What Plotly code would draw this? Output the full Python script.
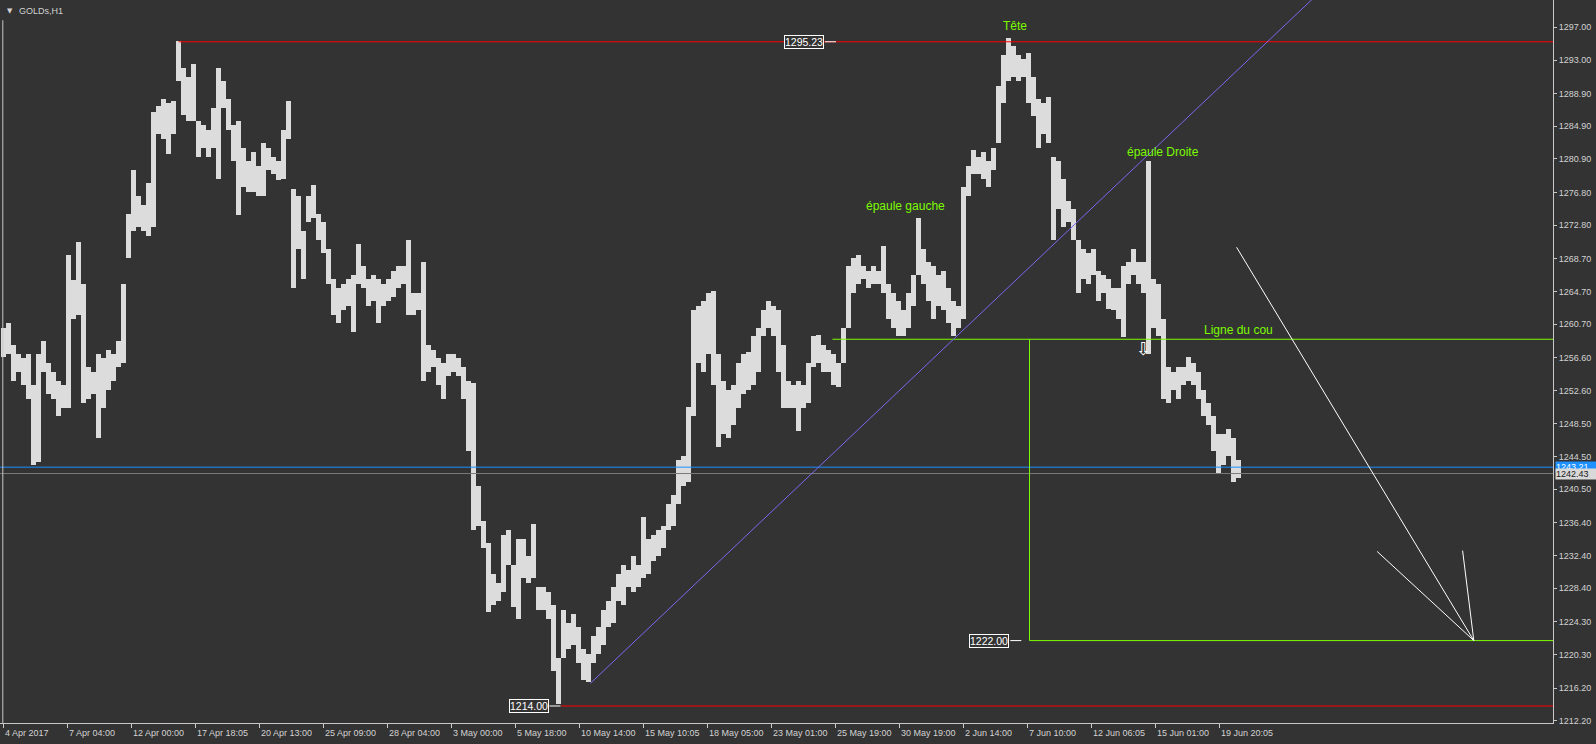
import plotly.graph_objects as go

# ---------------- data ----------------
symbol_label = "GOLDs,H1"

date_labels = ["4 Apr 2017", "7 Apr 04:00", "12 Apr 00:00", "17 Apr 18:05", "20 Apr 13:00",
               "25 Apr 09:00", "28 Apr 04:00", "3 May 00:00", "5 May 18:00", "10 May 14:00",
               "15 May 10:05", "18 May 05:00", "23 May 01:00", "25 May 19:00", "30 May 19:00",
               "2 Jun 14:00", "7 Jun 10:00", "12 Jun 06:05", "15 Jun 01:00", "19 Jun 20:05"]

price_ticks = [1297.00, 1293.00, 1288.90, 1284.90, 1280.90, 1276.80, 1272.80, 1268.70, 1264.70,
               1260.70, 1256.60, 1252.60, 1248.50, 1244.50, 1240.50, 1236.40, 1232.40, 1228.40,
               1224.30, 1220.30, 1216.20, 1212.20]

# H1 price range, one value per group of 5 hourly bars
bar_high = [1260.2, 1260.9, 1258.1, 1257.0, 1256.5, 1257.0, 1253.2, 1257.0, 1258.6, 1255.9,
            1254.85, 1253.8, 1253.2, 1269.1, 1266.1, 1270.7, 1265.6, 1255.4, 1254.85, 1257.0,
            1256.5, 1257.55, 1257.0, 1258.6, 1265.6, 1274.2, 1279.6, 1276.4, 1275.3, 1278.0,
            1286.6, 1287.4, 1288.2, 1287.7, 1287.95, 1295.3, 1292.0, 1290.9, 1292.5, 1285.5,
            1285.0, 1284.45, 1287.1, 1292.0, 1290.4, 1288.2, 1285.0, 1285.5, 1282.3, 1280.7,
            1281.75, 1280.1, 1282.8, 1282.3, 1281.2, 1280.7, 1284.45, 1287.95, 1277.2, 1276.4,
            1272.1, 1276.4, 1277.7, 1274.2, 1273.2, 1269.9, 1266.2, 1265.1, 1265.6, 1266.2,
            1266.7, 1270.5, 1267.8, 1266.2, 1266.7, 1266.2, 1265.6, 1266.2, 1267.2, 1267.8,
            1267.8, 1271.0, 1264.5, 1264.5, 1268.3, 1258.1, 1257.55, 1256.5, 1255.9, 1257.0,
            1257.0, 1256.5, 1255.4, 1253.8, 1253.5, 1240.9, 1236.6, 1233.9, 1230.1, 1229.0,
            1234.9, 1235.5, 1231.2, 1234.4, 1234.4, 1232.3, 1236.3, 1228.5, 1228.5, 1227.95,
            1226.3, 1219.9, 1225.8, 1224.2, 1225.25, 1223.6, 1221.0, 1220.4, 1222.6, 1223.6,
            1225.8, 1226.9, 1228.5, 1230.1, 1231.2, 1230.65, 1232.3, 1231.2, 1237.1, 1234.4,
            1234.9, 1235.5, 1236.0, 1238.7, 1239.8, 1244.1, 1244.6, 1250.55, 1262.4, 1262.9,
            1263.5, 1264.5, 1264.8, 1257.0, 1253.8, 1252.7, 1253.2, 1255.9, 1257.0, 1257.3,
            1259.2, 1260.2, 1262.4, 1263.5, 1262.9, 1262.4, 1258.1, 1253.8, 1253.2, 1253.8,
            1253.2, 1255.9, 1259.2, 1259.4, 1258.1, 1257.55, 1257.0, 1255.9, 1260.2, 1267.8,
            1268.8, 1269.1, 1267.8, 1267.2, 1267.8, 1267.2, 1270.2, 1265.6, 1264.5, 1263.5,
            1262.4, 1264.5, 1266.7, 1273.7, 1269.9, 1268.3, 1267.8, 1266.7, 1267.2, 1265.1,
            1263.5, 1262.9, 1277.5, 1280.1, 1282.0, 1281.2, 1281.75, 1280.7, 1282.3, 1289.8,
            1293.6, 1295.75, 1294.7, 1293.6, 1293.1, 1293.9, 1290.9, 1288.2, 1287.7, 1288.5,
            1281.2, 1280.7, 1278.5, 1275.8, 1274.8, 1271.0, 1269.9, 1269.4, 1269.9, 1267.2,
            1266.7, 1266.2, 1265.1, 1265.1, 1267.8, 1268.3, 1269.9, 1268.3, 1268.3, 1280.7,
            1266.2, 1265.6, 1261.3, 1255.4, 1254.85, 1255.4, 1255.4, 1256.7, 1255.9, 1254.85,
            1252.7, 1251.1, 1249.5, 1247.3, 1247.3, 1247.9, 1246.8, 1244.1]

bar_low = [1256.7, 1257.0, 1253.8, 1254.9, 1253.2, 1251.6, 1243.5, 1243.8, 1254.85, 1252.2,
           1251.6, 1249.5, 1250.5, 1250.5, 1261.3, 1261.85, 1251.1, 1251.6, 1252.2, 1246.8,
           1250.5, 1252.7, 1253.8, 1255.4, 1255.9, 1268.8, 1272.1, 1272.6, 1272.1, 1271.5,
           1272.6, 1283.9, 1283.4, 1281.5, 1283.9, 1290.4, 1286.3, 1285.5, 1285.5, 1281.2,
           1282.3, 1281.2, 1282.3, 1278.5, 1287.1, 1284.45, 1280.7, 1274.0, 1277.5, 1276.9,
           1276.9, 1276.4, 1276.4, 1279.6, 1279.1, 1278.3, 1278.5, 1283.4, 1265.1, 1269.9,
           1266.2, 1273.2, 1273.7, 1271.0, 1269.4, 1265.6, 1261.85, 1260.8, 1262.4, 1262.9,
           1259.7, 1265.6, 1265.1, 1262.9, 1263.5, 1260.8, 1262.9, 1263.5, 1264.0, 1265.1,
           1265.6, 1261.85, 1261.85, 1262.4, 1253.8, 1254.85, 1255.4, 1253.2, 1251.6, 1254.3,
           1254.85, 1254.3, 1251.6, 1245.2, 1235.5, 1236.0, 1233.3, 1225.5, 1226.3, 1226.9,
           1227.95, 1231.2, 1226.1, 1224.7, 1229.6, 1229.0, 1229.6, 1225.8, 1225.8, 1224.7,
           1218.3, 1214.2, 1219.9, 1221.0, 1221.5, 1219.3, 1217.2, 1216.9, 1219.3, 1220.4,
           1221.5, 1223.6, 1224.2, 1226.9, 1226.3, 1228.5, 1227.95, 1228.5, 1229.6, 1230.1,
           1231.7, 1232.3, 1233.3, 1235.5, 1236.0, 1238.7, 1240.9, 1241.4, 1249.5, 1255.9,
           1254.85, 1257.0, 1253.2, 1245.7, 1247.3, 1246.8, 1248.4, 1250.5, 1252.2, 1252.7,
           1253.2, 1254.85, 1259.2, 1260.2, 1259.2, 1254.85, 1250.5, 1250.5, 1250.5, 1247.6,
           1250.5, 1251.1, 1255.4, 1255.9, 1254.85, 1254.85, 1253.2, 1253.0, 1255.9, 1260.2,
           1264.5, 1265.6, 1266.2, 1265.1, 1265.6, 1265.6, 1264.5, 1261.3, 1260.2, 1259.2,
           1259.2, 1260.2, 1262.9, 1266.7, 1265.6, 1263.5, 1261.3, 1262.9, 1262.4, 1260.8,
           1259.2, 1260.2, 1261.3, 1276.4, 1279.1, 1279.1, 1278.5, 1277.5, 1279.6, 1282.8,
           1287.7, 1290.4, 1290.9, 1290.4, 1290.9, 1287.7, 1286.1, 1282.3, 1283.9, 1282.8,
           1271.0, 1274.8, 1272.6, 1273.2, 1271.0, 1264.5, 1266.2, 1265.6, 1266.7, 1263.5,
           1264.5, 1262.6, 1262.4, 1261.3, 1259.1, 1265.6, 1266.7, 1265.6, 1264.5, 1257.0,
           1260.2, 1259.2, 1251.6, 1251.1, 1252.7, 1251.6, 1253.2, 1253.8, 1253.2, 1251.6,
           1249.5, 1248.4, 1245.2, 1242.5, 1243.5, 1244.6, 1241.4, 1241.9]

# chart objects (bar position, price)
high_level = 1295.23          # red horizontal, starts at April high
high_level_start = 178.6
low_level = 1214.00           # red horizontal, starts at May low
low_level_start = 561.0
neckline = 1258.85            # "Ligne du cou"
neckline_start = 832.4
target_level = 1222.00        # projected target
target_bar = 1029.5
trend_p1 = (590.4, 1216.77)   # blue ray
trend_p2 = (955.2, 1259.05)
arrow_lines = [((1236.6, 1270.1), (1473.8, 1222.0)),
               ((1377.1, 1232.9), (1473.8, 1222.0)),
               ((1462.6, 1233.0), (1473.8, 1222.0))]
ask_price = 1243.21
bid_price = 1242.43
price_boxes = [("1295.23", 804.0, 1295.23), ("1214.00", 528.5, 1214.00), ("1222.00", 989.3, 1222.00)]
text_labels = [("Tête", 1015.0, 1297.1), ("épaule gauche", 905.8, 1275.2),
               ("épaule Droite", 1162.8, 1281.75), ("Ligne du cou", 1238.0, 1259.98)]
sell_arrow = (1143.5, 1257.66)

# ---------------- layout constants ----------------
W, H = 1596, 744
ML, MR, MT, MB = 0, 43, 0, 21
X_MAX = W - MR            # 1 unit = 1 hourly bar = 1 pixel
Y_RANGE = [1211.92, 1300.34]
first_bar, bar_step = 3.0, 5.0
first_tick, tick_step = 3.5, 64.0

BG = "#333333"
FG = "#d2d2d2"
BAR = "#dcdcdc"
GREEN = "#7cfc00"
RED = "#ff0000"
FONT = "Liberation Sans"

bar_x = [first_bar + i * bar_step for i in range(len(bar_high))]
tick_x = [first_tick + i * tick_step for i in range(len(date_labels))]

fig = go.Figure()

fig.add_trace(go.Bar(
    x=bar_x, y=[h - l for h, l in zip(bar_high, bar_low)], base=bar_low,
    width=bar_step, marker=dict(color=BAR, line=dict(width=0)),
    showlegend=False, hoverinfo="skip"))


def seg(x0, y0, x1, y1, color, width=1, dash=None):
    fig.add_trace(go.Scatter(x=[x0, x1], y=[y0, y1], mode="lines",
                             line=dict(color=color, width=width, dash=dash),
                             showlegend=False, hoverinfo="skip"))


# ask / bid lines
seg(0, ask_price, X_MAX, ask_price, "#1e90ff")
seg(0, bid_price, X_MAX, bid_price, "#7a7a7a")
# levels
seg(high_level_start, high_level, X_MAX, high_level, RED)
seg(low_level_start, low_level, X_MAX, low_level, RED)
seg(neckline_start, neckline, X_MAX, neckline, GREEN)
seg(target_bar, target_level, X_MAX, target_level, GREEN)
seg(target_bar, neckline, target_bar, target_level, GREEN)
# trend ray
slope = (trend_p2[1] - trend_p1[1]) / (trend_p2[0] - trend_p1[0])
ray_end_x = X_MAX + 200
seg(trend_p1[0], trend_p1[1], ray_end_x, trend_p1[1] + slope * (ray_end_x - trend_p1[0]), "#7b68ee")
# white projection lines
for (a, b) in arrow_lines:
    seg(a[0], a[1], b[0], b[1], "#ffffff")

annotations = []
# price label objects
for txt, bx, by in price_boxes:
    annotations.append(dict(x=bx, y=by, xref="x", yref="y", text=txt, showarrow=False,
                            font=dict(family=FONT, size=10.5, color="#ffffff"),
                            bgcolor=BG, bordercolor="#ffffff", borderwidth=1, borderpad=0,
                            xanchor="center", yanchor="middle"))
    seg(bx + 21, by, bx + 32, by, "#ffffff")

for txt, tx, ty in text_labels:
    annotations.append(dict(x=tx, y=ty, xref="x", yref="y", text=txt, showarrow=False,
                            font=dict(family=FONT, size=12, color=GREEN),
                            xanchor="center", yanchor="middle"))

annotations.append(dict(x=sell_arrow[0], y=sell_arrow[1], xref="x", yref="y", text="⇩",
                        showarrow=False, font=dict(family="DejaVu Sans", size=18, color="#ffffff"),
                        xanchor="center", yanchor="middle"))

# time-axis labels (left aligned after tick like MT4)
for tx, lab in zip(tick_x, date_labels):
    annotations.append(dict(x=tx, y=0, xref="x", yref="paper", text=lab, showarrow=False,
                            font=dict(family=FONT, size=9, color=FG),
                            xanchor="left", yanchor="middle", xshift=-1, yshift=-10))

# current ask / bid boxes on the price scale
annotations.append(dict(x=1, y=ask_price, xref="paper", yref="y", text=f"{ask_price:.2f}",
                        showarrow=False, font=dict(family=FONT, size=9, color="#ffffff"),
                        bgcolor="#1e90ff", width=41, height=10, borderpad=0,
                        xanchor="left", yanchor="middle", xshift=2, align="left"))
annotations.append(dict(x=1, y=bid_price, xref="paper", yref="y", text=f"{bid_price:.2f}",
                        showarrow=False, font=dict(family=FONT, size=9, color="#202020"),
                        bgcolor="#d8d8d8", width=41, height=10, borderpad=0,
                        xanchor="left", yanchor="middle", xshift=2, align="left"))

# symbol caption
annotations.append(dict(x=0, y=1, xref="paper", yref="paper", text="▼", showarrow=False,
                        font=dict(family="DejaVu Sans", size=7, color=FG),
                        xanchor="center", yanchor="middle", xshift=9.5, yshift=-10.5))
annotations.append(dict(x=0, y=1, xref="paper", yref="paper", text=symbol_label, showarrow=False,
                        font=dict(family=FONT, size=9, color=FG), bgcolor=BG,
                        xanchor="left", yanchor="middle", xshift=17, yshift=-10.5))

fig.update_layout(
    width=W, height=H, margin=dict(l=ML, r=MR, t=MT, b=MB, pad=0),
    paper_bgcolor=BG, plot_bgcolor=BG, showlegend=False, bargap=0,
    annotations=annotations,
    shapes=[dict(type="line", xref="x", yref="paper", x0=2.8, x1=2.8, y0=0, y1=0.972,
                 line=dict(color="#c8c8c8", width=1))],
    xaxis=dict(range=[0, X_MAX], showgrid=False, zeroline=False, showline=True,
               linecolor="#c8c8c8", linewidth=1, ticks="outside", ticklen=4,
               tickcolor="#c8c8c8", tickvals=tick_x, showticklabels=False, fixedrange=True),
    yaxis=dict(range=Y_RANGE, side="right", showgrid=False, zeroline=False, showline=True,
               linecolor="#c8c8c8", linewidth=1, ticks="outside", ticklen=3,
               tickcolor="#c8c8c8", tickvals=price_ticks,
               ticktext=[f"{v:.2f}" for v in price_ticks],
               tickfont=dict(family=FONT, size=9, color=FG), fixedrange=True),
)

fig.write_html(
    "out.html",
    config={"displayModeBar": False},
    post_script="document.body.style.margin='0';document.body.style.padding='0';"
                "document.body.style.overflow='hidden';"
                "document.body.style.background='" + BG + "';",
)
